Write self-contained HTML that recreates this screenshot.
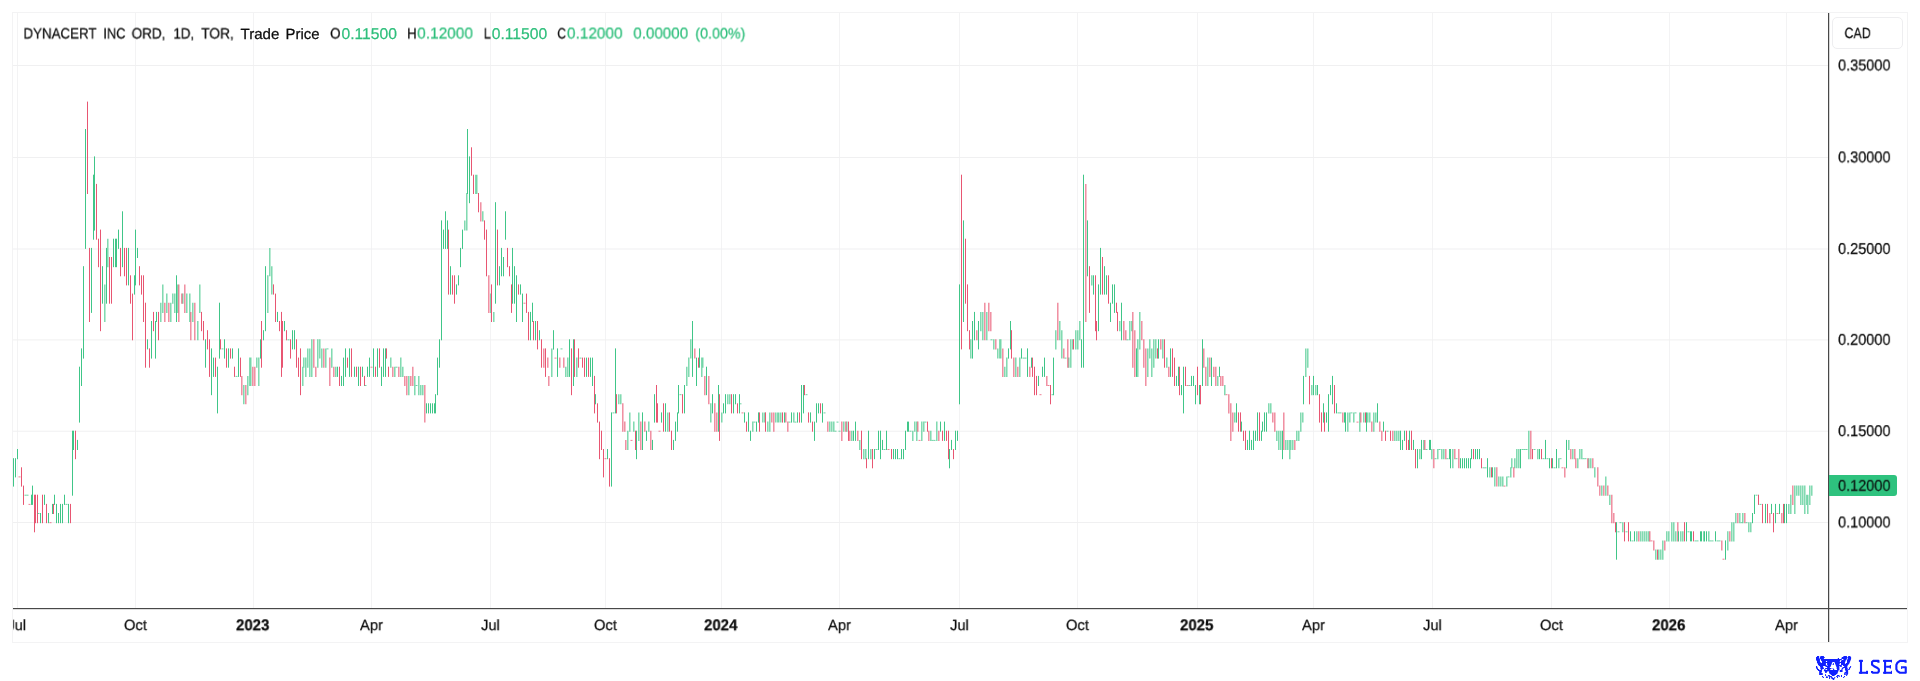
<!DOCTYPE html>
<html><head><meta charset="utf-8"><title>chart</title>
<style>
html,body{margin:0;padding:0;background:#fff;}
body{width:1920px;height:681px;position:relative;overflow:hidden;font-family:"Liberation Sans",sans-serif;color:#181818;}
#frame{position:absolute;left:12px;top:12px;width:1894px;height:629px;border:1px solid #f3f3f4;}
svg{position:absolute;left:0;top:0;}
.t{position:absolute;display:block;white-space:pre;line-height:20px;transform-origin:0 0;will-change:transform;text-rendering:geometricPrecision;-webkit-text-stroke:0.25px currentColor;}
#cad{position:absolute;left:1832px;top:17px;width:71px;height:32px;border:1px solid #eeeef0;border-radius:5px;box-sizing:border-box;}
#last{position:absolute;left:1829px;top:475.1px;width:68px;height:20.8px;background:#2ec27e;border-radius:0 3px 3px 0;}
#lseg{position:absolute;left:1857.6px;top:654.6px;font-family:"Liberation Mono",monospace;font-weight:bold;font-size:21px;line-height:24px;color:#1020ff;letter-spacing:-0.6px;white-space:pre;}
</style></head><body>
<div id="frame"></div>
<svg width="1920" height="681" viewBox="0 0 1920 681">
<rect x="17" y="13" width="1" height="595" fill="#f3f3f4" shape-rendering="crispEdges"/><rect x="135" y="13" width="1" height="595" fill="#f3f3f4" shape-rendering="crispEdges"/><rect x="253" y="13" width="1" height="595" fill="#f3f3f4" shape-rendering="crispEdges"/><rect x="371" y="13" width="1" height="595" fill="#f3f3f4" shape-rendering="crispEdges"/><rect x="490" y="13" width="1" height="595" fill="#f3f3f4" shape-rendering="crispEdges"/><rect x="605" y="13" width="1" height="595" fill="#f3f3f4" shape-rendering="crispEdges"/><rect x="721" y="13" width="1" height="595" fill="#f3f3f4" shape-rendering="crispEdges"/><rect x="839" y="13" width="1" height="595" fill="#f3f3f4" shape-rendering="crispEdges"/><rect x="959" y="13" width="1" height="595" fill="#f3f3f4" shape-rendering="crispEdges"/><rect x="1077" y="13" width="1" height="595" fill="#f3f3f4" shape-rendering="crispEdges"/><rect x="1197" y="13" width="1" height="595" fill="#f3f3f4" shape-rendering="crispEdges"/><rect x="1313" y="13" width="1" height="595" fill="#f3f3f4" shape-rendering="crispEdges"/><rect x="1432" y="13" width="1" height="595" fill="#f3f3f4" shape-rendering="crispEdges"/><rect x="1551" y="13" width="1" height="595" fill="#f3f3f4" shape-rendering="crispEdges"/><rect x="1669" y="13" width="1" height="595" fill="#f3f3f4" shape-rendering="crispEdges"/><rect x="1786" y="13" width="1" height="595" fill="#f3f3f4" shape-rendering="crispEdges"/><rect x="13" y="65.00" width="1815" height="1" fill="#f0f0f1"/><rect x="13" y="156.95" width="1815" height="1" fill="#f0f0f1"/><rect x="13" y="248.50" width="1815" height="1" fill="#f0f0f1"/><rect x="13" y="339.40" width="1815" height="1" fill="#f0f0f1"/><rect x="13" y="430.70" width="1815" height="1" fill="#f0f0f1"/><rect x="13" y="522.00" width="1815" height="1" fill="#f0f0f1"/>
<g id="candles"><path d="M104.8 284.4V322.0M107.8 238.7V267.2M160.8 302.7V322.0M162.8 284.4V312.9M166.8 293.6V312.9M170.8 302.7V322.0M172.8 293.6V303.7M174.8 293.6V312.9M177.8 284.4V312.9M182.8 293.6V303.7M186.8 293.6V312.9M189.8 293.6V322.0M192.8 302.7V322.0M197.8 321.0V340.3M199.8 284.4V312.9M243.8 385.0V404.3M247.8 375.9V395.2M249.8 357.6V386.0M250.8 357.6V386.0M256.8 357.6V367.7M258.8 357.6V386.0M267.8 275.3V312.9M269.8 247.9V276.3M271.8 266.2V294.6M302.8 366.7V386.0M303.8 357.6V367.7M305.8 357.6V376.9M307.8 348.4V367.7M309.8 348.4V376.9M311.8 339.3V376.9M317.8 339.3V367.7M319.8 339.3V358.6M321.8 348.4V367.7M325.8 348.4V367.7M331.8 348.4V367.7M335.8 366.7V376.9M390.8 357.6V367.7M394.8 366.7V376.9M400.8 357.6V376.9M402.8 366.7V376.9M408.8 375.9V395.2M414.8 375.9V395.2M418.8 375.9V395.2M420.8 385.0V395.2M422.8 385.0V395.2M464.8 220.4V230.6M466.8 193.0V230.6M475.8 174.7V194.0M476.8 174.7V194.0M482.8 211.3V221.4M490.8 293.6V312.9M493.8 311.9V322.0M551.8 348.4V376.9M565.8 366.7V376.9M567.8 357.6V376.9M576.8 357.6V376.9M618.8 394.2V404.3M620.8 394.2V404.3M627.8 430.7V450.0M629.8 412.4V431.7M633.8 421.6V431.7M638.8 412.4V440.9M648.8 421.6V431.7M667.8 412.4V431.7M686.8 366.7V386.0M688.8 357.6V376.9M690.8 339.3V358.6M701.8 357.6V376.9M702.8 357.6V367.7M710.8 403.3V422.6M721.8 412.4V422.6M727.8 394.2V404.3M729.8 394.2V404.3M752.8 421.6V431.7M762.8 412.4V422.6M764.8 412.4V422.6M767.8 421.6V431.7M769.8 412.4V431.7M775.8 412.4V422.6M777.8 412.4V422.6M778.8 412.4V422.6M780.8 412.4V422.6M793.8 412.4V422.6M829.8 421.6V431.7M831.8 421.6V431.7M833.8 421.6V431.7M843.8 421.6V431.7M846.8 421.6V431.7M851.8 430.7V440.9M859.8 439.9V450.0M863.8 449.0V459.2M865.8 449.0V459.2M870.8 449.0V459.2M912.8 430.7V440.9M914.8 421.6V431.7M916.8 421.6V440.9M921.8 421.6V440.9M923.8 421.6V431.7M930.8 430.7V440.9M936.8 421.6V440.9M970.8 339.3V358.6M980.8 311.9V331.2M982.8 311.9V340.3M986.8 311.9V340.3M993.8 339.3V349.4M997.8 348.4V358.6M999.8 339.3V358.6M1000.8 339.3V358.6M1004.8 366.7V376.9M1006.8 357.6V376.9M1015.8 357.6V376.9M1019.8 357.6V376.9M1055.8 330.2V349.4M1059.8 321.0V340.3M1061.8 330.2V358.6M1068.8 357.6V367.7M1070.8 339.3V367.7M1072.8 339.3V349.4M1075.8 330.2V349.4M1077.8 330.2V349.4M1079.8 321.0V340.3M1091.8 275.3V285.4M1119.8 321.0V331.2M1129.8 321.0V340.3M1131.8 321.0V331.2M1137.8 339.3V376.9M1139.8 311.9V349.4M1147.8 348.4V376.9M1149.8 339.3V358.6M1151.8 348.4V376.9M1153.8 339.3V367.7M1155.8 339.3V358.6M1162.8 339.3V358.6M1166.8 357.6V367.7M1207.8 357.6V386.0M1217.8 375.9V386.0M1224.8 385.0V395.2M1234.8 412.4V422.6M1268.8 403.3V413.4M1270.8 403.3V413.4M1276.8 430.7V440.9M1278.8 430.7V450.0M1280.8 430.7V450.0M1285.8 439.9V450.0M1287.8 439.9V450.0M1289.8 439.9V459.2M1290.8 439.9V450.0M1292.8 439.9V450.0M1296.8 430.7V440.9M1298.8 430.7V440.9M1300.8 412.4V431.7M1302.8 412.4V422.6M1305.8 348.4V376.9M1307.8 348.4V367.7M1311.8 385.0V395.2M1315.8 385.0V395.2M1347.8 412.4V431.7M1349.8 412.4V422.6M1353.8 412.4V422.6M1359.8 412.4V431.7M1363.8 412.4V422.6M1367.8 412.4V422.6M1369.8 412.4V422.6M1373.8 412.4V431.7M1375.8 412.4V422.6M1394.8 430.7V440.9M1396.8 430.7V440.9M1398.8 430.7V440.9M1419.8 449.0V459.2M1423.8 439.9V450.0M1431.8 449.0V459.2M1437.8 449.0V459.2M1441.8 449.0V459.2M1443.8 449.0V459.2M1452.8 449.0V468.3M1489.8 467.3V477.4M1494.8 467.3V486.6M1498.8 476.4V486.6M1500.8 476.4V486.6M1502.8 476.4V486.6M1506.8 476.4V486.6M1510.8 467.3V477.4M1511.8 458.2V468.3M1514.8 458.2V468.3M1516.8 449.0V468.3M1518.8 449.0V468.3M1528.8 430.7V459.2M1537.8 449.0V459.2M1558.8 458.2V468.3M1568.8 439.9V450.0M1572.8 449.0V459.2M1577.8 458.2V468.3M1579.8 449.0V459.2M1581.8 449.0V459.2M1588.8 458.2V468.3M1590.8 458.2V468.3M1594.8 467.3V477.4M1601.8 485.6V495.7M1605.8 476.4V495.7M1609.8 494.7V504.9M1622.8 522.2V532.3M1636.8 531.3V541.4M1640.8 531.3V541.4M1642.8 531.3V541.4M1644.8 531.3V541.4M1646.8 531.3V541.4M1648.8 531.3V541.4M1655.8 549.6V559.7M1658.8 549.6V559.7M1660.8 549.6V559.7M1662.8 540.4V559.7M1666.8 531.3V541.4M1668.8 531.3V541.4M1671.8 522.2V541.4M1673.8 522.2V541.4M1675.8 531.3V541.4M1680.8 531.3V541.4M1682.8 531.3V541.4M1703.8 531.3V541.4M1708.8 531.3V541.4M1727.8 531.3V550.6M1731.8 522.2V541.4M1733.8 522.2V541.4M1735.8 513.0V523.2M1739.8 513.0V523.2M1742.8 513.0V523.2M1748.8 522.2V532.3M1750.8 522.2V532.3M1788.8 503.9V514.0M1790.8 494.7V514.0M1794.8 485.6V514.0M1796.8 485.6V495.7M1798.8 485.6V495.7M1800.8 485.6V504.9M1802.8 485.6V504.9M1804.8 485.6V514.0M1806.8 494.7V504.9M1807.8 494.7V514.0M1809.8 485.6V504.9M1811.8 485.6V495.7" stroke="#40c688" stroke-opacity="0.72" stroke-width="1.4" fill="none"/><path d="M164.8 302.7V322.0M168.8 302.7V322.0M178.8 284.4V322.0M181.8 293.6V303.7M184.8 284.4V312.9M190.8 311.9V340.3M194.8 302.7V340.3M241.8 375.9V395.2M245.8 385.0V404.3M252.8 366.7V386.0M254.8 366.7V386.0M313.8 339.3V367.7M315.8 366.7V376.9M323.8 348.4V367.7M329.8 357.6V386.0M333.8 366.7V376.9M392.8 366.7V376.9M398.8 366.7V376.9M404.8 375.9V386.0M406.8 375.9V395.2M410.8 375.9V386.0M412.8 366.7V386.0M424.8 385.0V422.6M480.8 202.2V221.4M488.8 275.3V312.9M543.8 348.4V367.7M547.8 357.6V367.7M548.8 375.9V386.0M559.8 357.6V367.7M563.8 357.6V367.7M622.8 403.3V431.7M624.8 421.6V431.7M625.8 439.9V450.0M640.8 421.6V450.0M644.8 421.6V431.7M650.8 430.7V450.0M694.8 348.4V358.6M704.8 375.9V395.2M708.8 375.9V404.3M714.8 403.3V431.7M716.8 412.4V431.7M771.8 412.4V422.6M773.8 412.4V431.7M785.8 412.4V422.6M787.8 421.6V431.7M827.8 421.6V431.7M841.8 421.6V440.9M845.8 421.6V431.7M849.8 430.7V440.9M857.8 430.7V440.9M917.8 421.6V431.7M928.8 430.7V440.9M938.8 430.7V440.9M976.8 330.2V340.3M984.8 302.7V340.3M988.8 302.7V331.2M990.8 311.9V331.2M995.8 339.3V349.4M1002.8 348.4V376.9M1013.8 357.6V376.9M1017.8 366.7V376.9M1029.8 366.7V376.9M1046.8 375.9V386.0M1057.8 302.7V340.3M1063.8 348.4V358.6M1067.8 339.3V367.7M1085.8 183.9V322.0M1123.8 321.0V340.3M1125.8 330.2V340.3M1132.8 311.9V367.7M1134.8 330.2V376.9M1141.8 321.0V340.3M1143.8 339.3V367.7M1145.8 348.4V386.0M1160.8 339.3V349.4M1168.8 366.7V376.9M1203.8 348.4V367.7M1205.8 366.7V386.0M1209.8 357.6V376.9M1213.8 366.7V376.9M1215.8 366.7V386.0M1220.8 375.9V386.0M1222.8 375.9V386.0M1228.8 394.2V413.4M1230.8 403.3V440.9M1232.8 412.4V431.7M1272.8 412.4V422.6M1274.8 412.4V431.7M1283.8 412.4V450.0M1294.8 439.9V450.0M1342.8 412.4V422.6M1360.8 412.4V422.6M1371.8 421.6V431.7M1379.8 421.6V431.7M1381.8 430.7V440.9M1392.8 430.7V440.9M1424.8 439.9V450.0M1433.8 449.0V468.3M1445.8 449.0V459.2M1454.8 449.0V459.2M1458.8 449.0V468.3M1496.8 467.3V486.6M1513.8 467.3V477.4M1530.8 430.7V459.2M1564.8 467.3V477.4M1570.8 449.0V459.2M1574.8 449.0V459.2M1575.8 458.2V468.3M1587.8 458.2V468.3M1592.8 458.2V468.3M1597.8 467.3V486.6M1599.8 485.6V495.7M1603.8 485.6V495.7M1607.8 485.6V495.7M1611.8 494.7V523.2M1613.8 513.0V523.2M1638.8 531.3V541.4M1649.8 531.3V541.4M1653.8 540.4V550.6M1664.8 540.4V550.6M1677.8 522.2V541.4M1721.8 540.4V550.6M1729.8 531.3V541.4M1737.8 513.0V523.2M1744.8 513.0V523.2M1769.8 513.0V523.2M1781.8 513.0V523.2M1792.8 485.6V504.9" stroke="#e85672" stroke-opacity="0.72" stroke-width="1.4" fill="none"/><path d="M13.5 458.2V486.6M15.5 458.2V477.4M17.5 449.0V459.2M31.5 494.7V504.9M32.5 485.6V504.9M40.5 513.0V523.2M44.5 494.7V504.9M48.5 513.0V523.2M52.5 503.9V514.0M54.5 494.7V504.9M56.5 503.9V523.2M58.5 513.0V523.2M60.5 503.9V523.2M62.5 503.9V523.2M64.5 494.7V504.9M68.5 503.9V523.2M72.5 430.7V495.7M73.5 430.7V450.0M77.5 439.9V450.0M79.5 366.7V422.6M81.5 348.4V386.0M83.5 266.2V358.6M85.5 129.0V248.9M91.5 247.9V312.9M93.5 174.7V239.7M94.5 156.4V230.6M102.5 266.2V303.7M106.5 247.9V303.7M113.5 238.7V267.2M115.5 238.7V267.2M116.5 238.7V267.2M118.5 229.6V248.9M122.5 211.3V267.2M128.5 247.9V285.4M134.5 275.3V294.6M135.5 229.6V285.4M137.5 247.9V258.0M147.5 339.3V349.4M151.5 321.0V358.6M155.5 321.0V358.6M156.5 311.9V322.0M176.5 275.3V322.0M205.5 339.3V367.7M211.5 348.4V395.2M213.5 357.6V376.9M217.5 366.7V413.4M219.5 302.7V358.6M224.5 339.3V358.6M228.5 348.4V367.7M232.5 348.4V358.6M238.5 348.4V376.9M260.5 339.3V358.6M263.5 330.2V340.3M265.5 266.2V331.2M277.5 311.9V322.0M284.5 321.0V331.2M292.5 330.2V349.4M294.5 330.2V349.4M337.5 366.7V376.9M341.5 375.9V386.0M343.5 357.6V386.0M345.5 348.4V376.9M349.5 348.4V376.9M354.5 366.7V376.9M358.5 366.7V386.0M362.5 366.7V376.9M367.5 366.7V376.9M369.5 357.6V376.9M373.5 348.4V376.9M377.5 348.4V376.9M381.5 366.7V386.0M383.5 348.4V376.9M385.5 348.4V376.9M426.5 403.3V413.4M428.5 403.3V413.4M430.5 403.3V413.4M432.5 403.3V413.4M434.5 403.3V413.4M435.5 394.2V413.4M437.5 357.6V395.2M439.5 339.3V367.7M441.5 220.4V340.3M443.5 229.6V248.9M445.5 211.3V248.9M447.5 220.4V248.9M450.5 266.2V294.6M456.5 284.4V294.6M458.5 275.3V285.4M460.5 247.9V267.2M462.5 229.6V248.9M467.5 129.0V194.0M469.5 156.4V203.2M495.5 202.2V303.7M499.5 266.2V285.4M501.5 247.9V276.3M503.5 257.0V276.3M505.5 211.3V239.7M512.5 247.9V303.7M514.5 266.2V303.7M516.5 275.3V322.0M520.5 284.4V294.6M522.5 293.6V322.0M530.5 311.9V340.3M532.5 302.7V322.0M535.5 321.0V340.3M539.5 330.2V340.3M553.5 330.2V349.4M553.5 339.3V349.4M557.5 348.4V376.9M569.5 339.3V376.9M573.5 339.3V386.0M586.5 357.6V376.9M590.5 357.6V376.9M592.5 357.6V386.0M595.5 394.2V404.3M607.5 449.0V459.2M611.5 412.4V486.6M615.5 348.4V413.4M636.5 430.7V459.2M642.5 412.4V450.0M646.5 430.7V440.9M652.5 439.9V450.0M654.5 394.2V422.6M661.5 412.4V422.6M665.5 403.3V431.7M673.5 439.9V450.0M675.5 421.6V440.9M677.5 412.4V431.7M678.5 385.0V413.4M684.5 385.0V413.4M692.5 321.0V376.9M696.5 357.6V386.0M699.5 348.4V367.7M706.5 366.7V395.2M712.5 394.2V413.4M718.5 385.0V431.7M723.5 403.3V413.4M725.5 394.2V413.4M733.5 394.2V413.4M735.5 394.2V404.3M739.5 394.2V413.4M744.5 412.4V422.6M748.5 412.4V431.7M750.5 430.7V440.9M756.5 421.6V431.7M758.5 412.4V422.6M784.5 412.4V422.6M791.5 412.4V422.6M797.5 412.4V422.6M801.5 385.0V422.6M803.5 385.0V413.4M810.5 412.4V422.6M814.5 421.6V440.9M816.5 403.3V422.6M818.5 403.3V413.4M822.5 403.3V422.6M853.5 430.7V440.9M855.5 421.6V440.9M868.5 430.7V459.2M874.5 449.0V459.2M878.5 430.7V450.0M880.5 430.7V459.2M882.5 439.9V450.0M886.5 430.7V450.0M893.5 449.0V459.2M895.5 449.0V459.2M897.5 449.0V459.2M901.5 449.0V459.2M903.5 449.0V459.2M905.5 430.7V450.0M907.5 421.6V431.7M908.5 421.6V431.7M940.5 421.6V431.7M944.5 421.6V440.9M949.5 449.0V468.3M951.5 439.9V450.0M955.5 430.7V450.0M957.5 430.7V440.9M959.5 284.4V404.3M963.5 220.4V322.0M972.5 321.0V358.6M974.5 311.9V340.3M978.5 321.0V349.4M1008.5 348.4V358.6M1010.5 321.0V349.4M1021.5 348.4V358.6M1027.5 348.4V376.9M1031.5 357.6V367.7M1038.5 375.9V386.0M1042.5 366.7V376.9M1044.5 357.6V376.9M1053.5 357.6V395.2M1081.5 339.3V367.7M1083.5 174.7V367.7M1087.5 220.4V276.3M1093.5 275.3V294.6M1098.5 284.4V331.2M1100.5 247.9V294.6M1104.5 266.2V294.6M1106.5 275.3V294.6M1110.5 302.7V322.0M1112.5 284.4V303.7M1114.5 284.4V312.9M1121.5 302.7V340.3M1136.5 348.4V376.9M1158.5 339.3V358.6M1170.5 348.4V376.9M1176.5 375.9V386.0M1178.5 366.7V386.0M1181.5 385.0V395.2M1183.5 366.7V413.4M1191.5 375.9V386.0M1193.5 375.9V386.0M1195.5 385.0V404.3M1199.5 385.0V404.3M1202.5 339.3V386.0M1211.5 357.6V386.0M1219.5 366.7V376.9M1236.5 403.3V422.6M1241.5 421.6V431.7M1247.5 439.9V450.0M1249.5 430.7V450.0M1251.5 439.9V450.0M1253.5 430.7V450.0M1255.5 430.7V440.9M1257.5 412.4V440.9M1261.5 430.7V440.9M1262.5 421.6V431.7M1264.5 412.4V431.7M1266.5 412.4V431.7M1282.5 430.7V459.2M1303.5 375.9V404.3M1313.5 375.9V395.2M1317.5 385.0V395.2M1323.5 403.3V422.6M1326.5 412.4V422.6M1328.5 394.2V431.7M1330.5 385.0V395.2M1332.5 375.9V404.3M1336.5 403.3V413.4M1344.5 412.4V422.6M1345.5 412.4V431.7M1366.5 412.4V431.7M1377.5 403.3V422.6M1383.5 421.6V431.7M1400.5 430.7V450.0M1402.5 439.9V450.0M1404.5 430.7V440.9M1409.5 430.7V450.0M1413.5 439.9V450.0M1417.5 449.0V468.3M1421.5 439.9V459.2M1429.5 439.9V450.0M1430.5 439.9V450.0M1449.5 449.0V459.2M1450.5 449.0V468.3M1460.5 458.2V468.3M1462.5 458.2V468.3M1464.5 458.2V468.3M1466.5 458.2V468.3M1468.5 458.2V468.3M1470.5 458.2V468.3M1471.5 449.0V459.2M1475.5 449.0V459.2M1477.5 449.0V459.2M1479.5 449.0V459.2M1487.5 458.2V477.4M1492.5 467.3V477.4M1520.5 449.0V468.3M1539.5 449.0V459.2M1545.5 439.9V459.2M1549.5 458.2V468.3M1552.5 458.2V468.3M1556.5 449.0V468.3M1566.5 439.9V468.3M1616.5 522.2V559.7M1630.5 531.3V541.4M1634.5 531.3V541.4M1678.5 531.3V541.4M1686.5 522.2V541.4M1690.5 531.3V541.4M1691.5 531.3V541.4M1700.5 531.3V541.4M1701.5 531.3V541.4M1704.5 531.3V541.4M1706.5 531.3V541.4M1715.5 531.3V541.4M1725.5 540.4V559.7M1752.5 513.0V523.2M1754.5 494.7V514.0M1765.5 503.9V523.2M1771.5 503.9V514.0M1775.5 503.9V523.2M1779.5 503.9V514.0M1784.5 503.9V523.2M1786.5 503.9V523.2" stroke="#40c688" stroke-width="1" fill="none"/><path d="M21.5 467.3V486.6M23.5 485.6V504.9M34.5 494.7V532.3M35.5 494.7V523.2M37.5 494.7V523.2M42.5 494.7V523.2M46.5 503.9V523.2M53.5 503.9V514.0M70.5 503.9V523.2M75.5 430.7V459.2M87.5 101.6V194.0M89.5 247.9V322.0M96.5 183.9V239.7M98.5 238.7V267.2M100.5 229.6V331.2M109.5 257.0V303.7M111.5 257.0V303.7M120.5 247.9V276.3M124.5 247.9V276.3M126.5 247.9V285.4M130.5 275.3V303.7M132.5 293.6V340.3M139.5 266.2V285.4M141.5 275.3V294.6M143.5 275.3V322.0M145.5 302.7V367.7M149.5 348.4V367.7M153.5 311.9V331.2M158.5 311.9V340.3M201.5 311.9V331.2M203.5 321.0V340.3M207.5 330.2V349.4M209.5 339.3V376.9M215.5 357.6V376.9M220.5 339.3V349.4M226.5 348.4V367.7M230.5 348.4V358.6M234.5 366.7V376.9M240.5 357.6V376.9M261.5 321.0V367.7M273.5 284.4V294.6M275.5 293.6V322.0M279.5 321.0V331.2M281.5 311.9V376.9M282.5 321.0V367.7M286.5 330.2V340.3M290.5 339.3V358.6M296.5 339.3V367.7M298.5 357.6V376.9M300.5 348.4V395.2M339.5 366.7V386.0M347.5 357.6V367.7M351.5 348.4V376.9M356.5 366.7V376.9M360.5 366.7V386.0M364.5 375.9V386.0M375.5 366.7V376.9M379.5 348.4V367.7M386.5 348.4V358.6M388.5 366.7V376.9M448.5 229.6V294.6M452.5 275.3V294.6M454.5 275.3V303.7M471.5 147.3V175.7M473.5 174.7V194.0M478.5 193.0V212.3M484.5 220.4V239.7M486.5 229.6V276.3M491.5 284.4V322.0M497.5 229.6V285.4M507.5 247.9V267.2M509.5 266.2V276.3M511.5 284.4V312.9M518.5 284.4V294.6M526.5 293.6V312.9M528.5 311.9V340.3M533.5 321.0V340.3M537.5 321.0V349.4M541.5 339.3V367.7M545.5 348.4V376.9M571.5 348.4V395.2M574.5 339.3V376.9M578.5 348.4V367.7M582.5 357.6V367.7M584.5 357.6V376.9M588.5 357.6V376.9M594.5 375.9V413.4M597.5 403.3V422.6M599.5 421.6V459.2M601.5 430.7V450.0M603.5 449.0V477.4M609.5 458.2V486.6M616.5 394.2V413.4M635.5 430.7V450.0M656.5 385.0V422.6M657.5 403.3V422.6M663.5 403.3V431.7M669.5 412.4V431.7M671.5 430.7V450.0M682.5 394.2V413.4M698.5 357.6V367.7M719.5 394.2V440.9M731.5 394.2V413.4M737.5 403.3V413.4M746.5 421.6V431.7M759.5 412.4V431.7M765.5 412.4V431.7M782.5 412.4V422.6M799.5 412.4V422.6M804.5 385.0V395.2M808.5 412.4V422.6M812.5 421.6V431.7M820.5 403.3V413.4M848.5 421.6V440.9M861.5 430.7V459.2M866.5 458.2V468.3M872.5 449.0V468.3M891.5 449.0V459.2M927.5 421.6V431.7M942.5 430.7V440.9M946.5 430.7V440.9M948.5 430.7V459.2M953.5 449.0V459.2M961.5 174.7V349.4M965.5 238.7V303.7M967.5 284.4V331.2M969.5 330.2V349.4M1011.5 330.2V358.6M1032.5 357.6V376.9M1034.5 366.7V395.2M1036.5 375.9V395.2M1050.5 385.0V404.3M1073.5 339.3V349.4M1089.5 266.2V312.9M1095.5 275.3V331.2M1096.5 321.0V340.3M1102.5 257.0V294.6M1108.5 275.3V303.7M1116.5 302.7V312.9M1117.5 311.9V331.2M1157.5 348.4V358.6M1164.5 339.3V367.7M1172.5 348.4V376.9M1174.5 357.6V386.0M1179.5 366.7V395.2M1185.5 366.7V386.0M1197.5 366.7V395.2M1200.5 385.0V404.3M1238.5 412.4V431.7M1240.5 412.4V431.7M1243.5 430.7V440.9M1245.5 430.7V450.0M1259.5 412.4V440.9M1309.5 375.9V404.3M1319.5 394.2V422.6M1321.5 412.4V431.7M1324.5 412.4V431.7M1334.5 385.0V413.4M1365.5 412.4V422.6M1385.5 430.7V440.9M1390.5 430.7V440.9M1406.5 430.7V450.0M1408.5 439.9V450.0M1411.5 430.7V450.0M1415.5 449.0V468.3M1473.5 449.0V459.2M1481.5 458.2V468.3M1491.5 467.3V477.4M1532.5 449.0V459.2M1541.5 449.0V459.2M1551.5 458.2V468.3M1615.5 522.2V532.3M1624.5 522.2V541.4M1628.5 522.2V541.4M1657.5 549.6V559.7M1684.5 522.2V541.4M1693.5 531.3V541.4M1758.5 494.7V504.9M1762.5 503.9V523.2M1767.5 503.9V523.2M1773.5 513.0V532.3M1783.5 503.9V523.2" stroke="#e85672" stroke-width="1" fill="none"/><path d="M24.5 495.2h2M26.5 495.2h2M37.5 513.5h2M65.5 504.4h2M221.5 348.9h2M235.5 376.4h2M287.5 339.8h2M326.5 348.9h2M364.5 385.5h2M395.5 367.2h2M415.5 385.5h2M560.5 348.9h2M579.5 358.1h2M612.5 412.9h2M679.5 394.7h2M739.5 403.8h2M753.5 422.1h2M788.5 422.1h2M794.5 422.1h2M805.5 394.7h2M823.5 412.9h2M834.5 431.2h2M836.5 422.1h2M838.5 431.2h2M875.5 449.5h2M883.5 449.5h2M898.5 458.7h2M909.5 431.2h2M924.5 422.1h2M931.5 440.4h2M933.5 440.4h2M990.5 339.8h2M1022.5 358.1h2M1024.5 358.1h2M1051.5 394.7h2M1064.5 358.1h2M1126.5 339.8h2M1188.5 385.5h2M1337.5 412.9h2M1339.5 412.9h2M1350.5 412.9h2M1354.5 412.9h2M1386.5 431.2h2M1425.5 449.5h2M1434.5 458.7h2M1438.5 449.5h2M1446.5 458.7h2M1455.5 458.7h2M1482.5 467.8h2M1484.5 467.8h2M1507.5 476.9h2M1521.5 449.5h2M1523.5 449.5h2M1525.5 449.5h2M1533.5 449.5h2M1542.5 458.7h2M1546.5 458.7h2M1553.5 467.8h2M1559.5 458.7h2M1582.5 458.7h2M1584.5 458.7h2M1617.5 531.8h2M1619.5 522.7h2M1625.5 531.8h2M1631.5 540.9h2M1687.5 531.8h2M1694.5 540.9h2M1696.5 540.9h2M1709.5 540.9h2M1711.5 540.9h2M1716.5 540.9h2M1718.5 540.9h2M1740.5 522.7h2M1745.5 522.7h2M1755.5 495.2h2M1759.5 504.4h2" stroke="#40c688" stroke-opacity="0.75" stroke-width="1" fill="none"/><path d="M18.5 476.9h2M28.5 504.4h2M49.5 522.7h2M370.5 367.2h2M523.5 303.2h2M554.5 358.1h2M604.5 458.7h2M630.5 440.4h2M658.5 431.2h2M741.5 412.9h2M887.5 449.5h2M918.5 440.4h2M1039.5 394.7h2M1047.5 385.5h2M1186.5 385.5h2M1225.5 394.7h2M1356.5 422.1h2M1503.5 486.1h2M1561.5 467.8h2M1650.5 540.9h2M1722.5 559.2h2M1776.5 513.5h2" stroke="#e85672" stroke-opacity="0.75" stroke-width="1" fill="none"/></g>
<rect x="1828" y="13" width="1" height="629" fill="#484848" shape-rendering="crispEdges"/>
<rect x="1829" y="13" width="1" height="629" fill="#484848" fill-opacity="0.22" shape-rendering="crispEdges"/>
<rect x="13" y="608" width="1894" height="1" fill="#484848" shape-rendering="crispEdges"/>
<rect x="13" y="609" width="1894" height="1" fill="#484848" fill-opacity="0.18" shape-rendering="crispEdges"/>
<path d="M1816.98 656h2.18v1h-2.18zM1820.35 656h3.57v1h-3.57zM1843.37 656h3.57v1h-3.57zM1848.13 656h2.38v1h-2.38zM1815.98 657h3.17v1h-3.17zM1819.95 657h4.76v1h-4.76zM1841.78 657h5.56v1h-5.56zM1847.73 657h3.37v1h-3.37zM1815.98 658h3.57v1h-3.57zM1819.95 658h3.97v1h-3.97zM1837.81 658h1.19v1h-1.19zM1841.38 658h5.56v1h-5.56zM1847.73 658h3.37v1h-3.37zM1815.98 659h3.97v1h-3.97zM1820.75 659h21.03v1h-21.03zM1843.37 659h3.17v1h-3.17zM1847.33 659h3.57v1h-3.57zM1816.38 660h3.57v1h-3.57zM1821.14 660h19.05v1h-19.05zM1841.38 660h4.37v1h-4.37zM1846.94 660h3.57v1h-3.57zM1816.98 661h2.98v1h-2.98zM1821.94 661h3.97v1h-3.97zM1827.10 661h12.70v1h-12.70zM1840.98 661h4.37v1h-4.37zM1846.94 661h3.17v1h-3.17zM1816.98 662h3.77v1h-3.77zM1821.94 662h10.32v1h-10.32zM1834.63 662h10.32v1h-10.32zM1846.94 662h2.78v1h-2.78zM1817.57 663h8.33v1h-8.33zM1827.10 663h4.76v1h-4.76zM1833.05 663h0.79v1h-0.79zM1835.03 663h4.76v1h-4.76zM1840.98 663h3.97v1h-3.97zM1845.75 663h3.57v1h-3.57zM1817.97 664h7.94v1h-7.94zM1827.10 664h4.37v1h-4.37zM1832.65 664h1.19v1h-1.19zM1835.43 664h3.97v1h-3.97zM1840.98 664h7.54v1h-7.54zM1818.76 665h7.94v1h-7.94zM1827.49 665h3.57v1h-3.57zM1835.83 665h5.95v1h-5.95zM1842.97 665h4.76v1h-4.76zM1815.98 666h1.19v1h-1.19zM1819.95 666h3.17v1h-3.17zM1825.51 666h5.16v1h-5.16zM1836.22 666h3.17v1h-3.17zM1840.19 666h1.59v1h-1.59zM1844.16 666h3.17v1h-3.17zM1850.11 666h0.99v1h-0.99zM1815.98 667h1.59v1h-1.59zM1820.35 667h3.17v1h-3.17zM1827.10 667h2.78v1h-2.78zM1836.62 667h2.78v1h-2.78zM1842.57 667h4.76v1h-4.76zM1848.92 667h0.79v1h-0.79zM1850.11 667h0.79v1h-0.79zM1816.38 668h1.59v1h-1.59zM1820.35 668h3.57v1h-3.57zM1825.11 668h6.35v1h-6.35zM1832.65 668h0.79v1h-0.79zM1836.62 668h2.78v1h-2.78zM1841.78 668h1.59v1h-1.59zM1844.95 668h2.78v1h-2.78zM1848.92 668h1.19v1h-1.19zM1816.98 669h2.18v1h-2.18zM1820.75 669h1.59v1h-1.59zM1824.32 669h1.19v1h-1.19zM1827.10 669h3.17v1h-3.17zM1833.05 669h1.19v1h-1.19zM1837.02 669h2.38v1h-2.38zM1841.38 669h1.19v1h-1.19zM1844.95 669h2.78v1h-2.78zM1848.13 669h1.59v1h-1.59zM1817.97 670h3.97v1h-3.97zM1823.92 670h14.68v1h-14.68zM1839.79 670h2.78v1h-2.78zM1845.35 670h2.78v1h-2.78zM1819.16 671h2.78v1h-2.78zM1824.71 671h2.78v1h-2.78zM1828.68 671h9.52v1h-9.52zM1839.79 671h2.78v1h-2.78zM1845.75 671h2.38v1h-2.38zM1819.16 672h2.38v1h-2.38zM1825.11 672h1.59v1h-1.59zM1829.08 672h8.73v1h-8.73zM1844.56 672h3.57v1h-3.57zM1819.16 673h3.57v1h-3.57zM1829.48 673h7.94v1h-7.94zM1844.16 673h1.59v1h-1.59zM1846.14 673h1.98v1h-1.98zM1819.16 674h3.57v1h-3.57zM1825.11 674h0.79v1h-0.79zM1830.67 674h5.56v1h-5.56zM1844.16 674h1.59v1h-1.59zM1846.14 674h1.59v1h-1.59zM1825.11 675h0.99v1h-0.99zM1827.89 675h1.98v1h-1.98zM1831.86 675h2.78v1h-2.78zM1837.02 675h2.38v1h-2.38zM1840.98 675h0.99v1h-0.99zM1846.14 675h0.99v1h-0.99zM1821.94 676h1.19v1h-1.19zM1826.30 676h1.19v1h-1.19zM1828.68 676h3.17v1h-3.17zM1836.22 676h1.59v1h-1.59zM1838.60 676h1.19v1h-1.19zM1840.98 676h0.99v1h-0.99zM1843.96 676h0.99v1h-0.99zM1822.73 677h1.19v1h-1.19zM1825.90 677h1.98v1h-1.98zM1829.08 677h1.19v1h-1.19zM1831.06 677h1.59v1h-1.59zM1834.24 677h0.99v1h-0.99zM1837.02 677h0.99v1h-0.99zM1843.17 677h0.99v1h-0.99zM1829.08 678h0.99v1h-0.99zM1831.46 678h3.17v1h-3.17zM1832.65 679h1.59v1h-1.59z" fill="#1020ff"/>
<g fill="#1020ff"><rect x="1858.91" y="659.88" width="4.04" height="2.03"/><rect x="1859.94" y="659.88" width="2.13" height="13.89"/><rect x="1858.91" y="671.76" width="9.04" height="2.00"/><rect x="1866.08" y="670.79" width="1.87" height="2.97"/><rect x="1884.04" y="659.88" width="2.07" height="13.89"/><rect x="1883.07" y="659.88" width="8.88" height="2.03"/><rect x="1890.98" y="659.88" width="0.97" height="2.58"/><rect x="1883.07" y="671.76" width="8.88" height="2.00"/><rect x="1890.95" y="670.79" width="1.00" height="2.97"/><rect x="1886.10" y="665.75" width="4.84" height="2.00"/><rect x="1889.75" y="665.04" width="1.23" height="3.49"/><polyline points="1878.45,662.85 1878.45,660.91 1873.12,660.91 1872.05,661.98 1872.05,664.72 1874.09,666.27 1876.99,667.69 1878.84,669.24 1878.84,671.44 1877.71,672.73 1872.80,672.73 1872.05,672.15 1872.05,671.12" fill="none" stroke="#1020ff" stroke-width="2.13" stroke-linejoin="round"/><polyline points="1905.58,662.85 1905.58,660.91 1899.93,660.91 1897.51,662.62 1896.37,664.72 1896.37,669.24 1897.67,671.44 1899.93,672.73 1905.74,672.73 1905.74,667.24 1902.12,667.24" fill="none" stroke="#1020ff" stroke-width="2.13" stroke-linejoin="round"/><rect x="1901.06" y="666.21" width="1.13" height="2.71"/></g>
</svg>
<div id="cad"></div>
<div id="last"></div>
<span class="t" style="left:23px;top:24px;font-size:14.9px;color:#0c0c0c;transform:translate(0.44px,0.50px) scaleX(0.8962);">DYNACERT</span><span class="t" style="left:103px;top:24px;font-size:14.9px;color:#0c0c0c;transform:translate(0.30px,0.50px) scaleX(0.8613);">INC</span><span class="t" style="left:131px;top:24px;font-size:14.9px;color:#0c0c0c;transform:translate(0.60px,0.50px) scaleX(0.9101);">ORD,</span><span class="t" style="left:173px;top:24px;font-size:14.9px;color:#0c0c0c;transform:translate(0.40px,0.50px) scaleX(0.8972);">1D,</span><span class="t" style="left:201px;top:24px;font-size:14.9px;color:#0c0c0c;transform:translate(0.25px,0.50px) scaleX(0.9185);">TOR,</span><span class="t" style="left:240px;top:24px;font-size:14.9px;color:#0c0c0c;transform:translate(0.50px,0.50px) scaleX(1.0139);">Trade</span><span class="t" style="left:285px;top:24px;font-size:14.9px;color:#0c0c0c;transform:translate(0.60px,0.50px) scaleX(1.0017);">Price</span><span class="t" style="left:330px;top:24px;font-size:14.9px;color:#0c0c0c;transform:translate(0.10px,0.50px) scaleX(0.8972);">O</span><span class="t" style="left:341px;top:24px;font-size:15.6px;color:#2fbf7c;transform:translate(0.50px,0.50px) scaleX(1.0029);">0.11500</span><span class="t" style="left:407px;top:24px;font-size:14.9px;color:#0c0c0c;transform:translate(0.05px,0.50px) scaleX(0.8924);">H</span><span class="t" style="left:417px;top:24px;font-size:15.6px;color:#2fbf7c;transform:translate(0.20px,0.50px) scaleX(0.9877);">0.12000</span><span class="t" style="left:483px;top:24px;font-size:14.9px;color:#0c0c0c;transform:translate(0.70px,0.50px) scaleX(0.8691);">L</span><span class="t" style="left:491px;top:24px;font-size:15.6px;color:#2fbf7c;transform:translate(0.70px,0.50px) scaleX(1.0047);">0.11500</span><span class="t" style="left:557px;top:24px;font-size:14.9px;color:#0c0c0c;transform:translate(0.30px,0.50px) scaleX(0.8087);">C</span><span class="t" style="left:566px;top:24px;font-size:15.6px;color:#2fbf7c;transform:translate(0.90px,0.50px) scaleX(0.9877);">0.12000</span><span class="t" style="left:633px;top:24px;font-size:15.6px;color:#2fbf7c;transform:translate(0.30px,0.50px) scaleX(0.9717);">0.00000</span><span class="t" style="left:695px;top:24px;font-size:14.9px;color:#2fbf7c;transform:translate(0.30px,0.50px) scaleX(0.9585);">(0.00%)</span><span class="t" style="left:123px;top:616px;font-size:14.9px;color:#0c0c0c;transform:translate(0.90px,0.10px) scaleX(0.9920);">Oct</span><span class="t" style="left:235px;top:616px;font-size:15.6px;color:#0c0c0c;font-weight:bold;transform:translate(0.97px,0.20px) scaleX(0.9637);">2023</span><span class="t" style="left:359px;top:616px;font-size:14.9px;color:#0c0c0c;transform:translate(0.95px,0.10px) scaleX(0.9877);">Apr</span><span class="t" style="left:481px;top:616px;font-size:14.9px;color:#0c0c0c;transform:translate(0.15px,0.10px) scaleX(0.9715);">Jul</span><span class="t" style="left:593px;top:616px;font-size:14.9px;color:#0c0c0c;transform:translate(0.90px,0.10px) scaleX(0.9920);">Oct</span><span class="t" style="left:703px;top:616px;font-size:15.6px;color:#0c0c0c;font-weight:bold;transform:translate(0.98px,0.20px) scaleX(0.9637);">2024</span><span class="t" style="left:827px;top:616px;font-size:14.9px;color:#0c0c0c;transform:translate(0.95px,0.10px) scaleX(0.9877);">Apr</span><span class="t" style="left:950px;top:616px;font-size:14.9px;color:#0c0c0c;transform:translate(0.15px,0.10px) scaleX(0.9715);">Jul</span><span class="t" style="left:1065px;top:616px;font-size:14.9px;color:#0c0c0c;transform:translate(0.90px,0.10px) scaleX(0.9920);">Oct</span><span class="t" style="left:1179px;top:616px;font-size:15.6px;color:#0c0c0c;font-weight:bold;transform:translate(0.98px,0.20px) scaleX(0.9637);">2025</span><span class="t" style="left:1301px;top:616px;font-size:14.9px;color:#0c0c0c;transform:translate(0.95px,0.10px) scaleX(0.9877);">Apr</span><span class="t" style="left:1423px;top:616px;font-size:14.9px;color:#0c0c0c;transform:translate(0.15px,0.10px) scaleX(0.9715);">Jul</span><span class="t" style="left:1539px;top:616px;font-size:14.9px;color:#0c0c0c;transform:translate(0.90px,0.10px) scaleX(0.9920);">Oct</span><span class="t" style="left:1651px;top:616px;font-size:15.6px;color:#0c0c0c;font-weight:bold;transform:translate(0.98px,0.20px) scaleX(0.9637);">2026</span><span class="t" style="left:1774px;top:616px;font-size:14.9px;color:#0c0c0c;transform:translate(0.95px,0.10px) scaleX(0.9877);">Apr</span><span style="position:absolute;left:13px;top:610px;width:40px;height:30px;overflow:hidden;display:block"><span class="t" style="left:-6px;top:6px;font-size:14.9px;color:#0c0c0c;transform:translate(0.50px,0.10px) scaleX(0.9715);">Jul</span></span><span class="t" style="left:1838px;top:56px;font-size:15.6px;color:#0c0c0c;transform:translate(0.00px,0.40px) scaleX(0.9310);">0.35000</span><span class="t" style="left:1838px;top:148px;font-size:15.6px;color:#0c0c0c;transform:translate(0.00px,0.35px) scaleX(0.9310);">0.30000</span><span class="t" style="left:1838px;top:239px;font-size:15.6px;color:#0c0c0c;transform:translate(0.00px,0.90px) scaleX(0.9310);">0.25000</span><span class="t" style="left:1838px;top:330px;font-size:15.6px;color:#0c0c0c;transform:translate(0.00px,0.80px) scaleX(0.9310);">0.20000</span><span class="t" style="left:1838px;top:422px;font-size:15.6px;color:#0c0c0c;transform:translate(0.00px,0.10px) scaleX(0.9310);">0.15000</span><span class="t" style="left:1838px;top:513px;font-size:15.6px;color:#0c0c0c;transform:translate(0.00px,0.40px) scaleX(0.9310);">0.10000</span><span class="t" style="left:1844px;top:24px;font-size:14.9px;color:#0c0c0c;transform:translate(0.50px,0.10px) scaleX(0.8330);">CAD</span>
<span class="t" style="left:1838px;top:476px;font-size:15.6px;color:#0c1a14;transform:translate(0.00px,0.80px) scaleX(0.9310);">0.12000</span>
</body></html>
